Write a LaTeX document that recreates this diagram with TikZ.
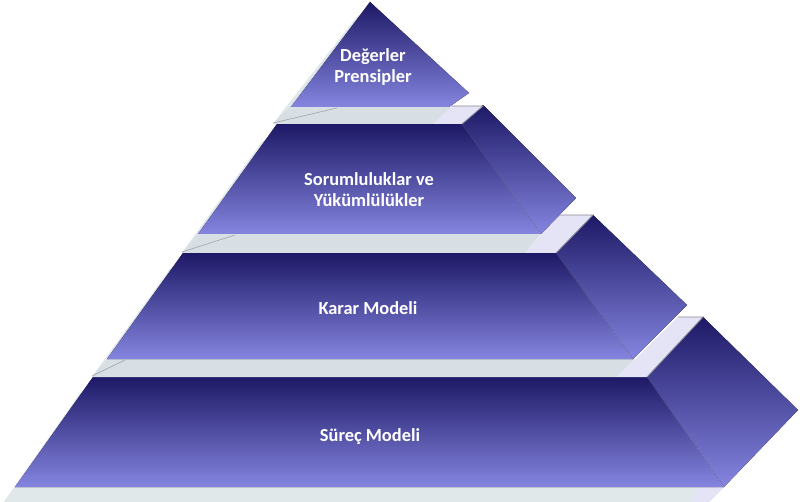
\documentclass[tikz,border=0pt]{standalone}
\usepackage{fontspec}
\setmainfont{Carlito}
\definecolor{navyD}{HTML}{1D1966}
\definecolor{lavL}{HTML}{8585E0}
\definecolor{bandG}{HTML}{D7DFE4}
\definecolor{stripG}{HTML}{E1E8E9}
\definecolor{lavP}{HTML}{E4E4F6}
\definecolor{edgeG}{HTML}{8C8C96}
\tikzset{
  face/.style={top color=navyD, bottom color=lavL, draw=none},
  plate/.style={fill=bandG, draw=none},
  lavpart/.style={fill=lavP, draw=none},
  edgeline/.style={draw=edgeG, line width=0.9pt},
  thinline/.style={draw=edgeG!80, line width=0.6pt},
  ridge/.style={draw=white, draw opacity=0.15, line width=0.6pt},
  label/.style={text=white, font=\fontsize{18.4}{21}\selectfont\bfseries, align=center, inner sep=0pt}
}
\begin{document}
\begin{tikzpicture}[x=1pt,y=-1pt]
\useasboundingbox (0,0) rectangle (800,502);
\fill[white] (0,0) rectangle (800,502);

% ---------- Layer 4 (bottom) ----------
\fill[fill=stripG] (84,390) -- (80,393) -- (3,503) -- (708,503) -- (724,487) -- (15,487) -- cycle;
\fill[lavpart] (698,487) -- (724,487) -- (708,503) -- (690,503) -- cycle;
\fill[face] (647,377) -- (703,317) -- (798,410) -- (724,487) -- cycle;
\fill[face] (93,377) -- (647,377) -- (724,487) -- (15,487) -- cycle;
\draw[ridge] (647,377) -- (724,487);

% ---------- Band C (top face of layer 4) + strip of layer 3 ----------
\fill[plate] (174,266) -- (170,269) -- (92,377) -- (617,377) -- (635,359) -- (107,359) -- cycle;
\fill[fill=stripG] (174,266) -- (170,269) -- (97,371) -- (104,363) -- cycle;
\fill[lavpart] (617,377) -- (647,377) -- (703,317) -- (678,317) -- cycle;
\draw[edgeline] (678,317) -- (703,317) -- (647,377);
\draw[thinline] (92,376) -- (125,360);

% ---------- Layer 3 ----------
\fill[face] (556,253) -- (593,215) -- (687,305) -- (633,359) -- cycle;
\fill[face] (183,253) -- (556,253) -- (633,359) -- (107,359) -- cycle;
\draw[ridge] (556,253) -- (633,359);

% ---------- Band B (top face of layer 3) + strip of layer 2 ----------
\fill[plate] (266,139) -- (262,142) -- (182,253) -- (525,253) -- (541,234) -- (198,234) -- cycle;
\fill[fill=stripG] (266,139) -- (262,142) -- (188,245) -- (195,237) -- cycle;
\fill[lavpart] (525,253) -- (556,253) -- (593,215) -- (558,215) -- cycle;
\draw[edgeline] (558,215) -- (593,215) -- (556,253);
\draw[thinline] (182,252) -- (235,235);

% ---------- Layer 2 ----------
\fill[face] (462,124) -- (483,105) -- (576,198) -- (541,234) -- cycle;
\fill[face] (277,124) -- (462,124) -- (541,234) -- (198,234) -- cycle;
\draw[ridge] (462,124) -- (541,234);

% ---------- Band A (top face of layer 2) + strip of layer 1 ----------
\fill[plate] (360,15) -- (356,18) -- (273,124) -- (433,124) -- (452,107) -- (291,107) -- cycle;
\fill[fill=stripG] (360,15) -- (356,18) -- (279,116) -- (287,110) -- cycle;
\fill[lavpart] (433,124) -- (462,124) -- (483,106) -- (452,106) -- cycle;
\draw[edgeline] (452,106) -- (483,106) -- (462,124);
\draw[thinline] (273,123) -- (337,108);

% ---------- Layer 1 (top) ----------
\fill[face] (370,2) -- (469,93) -- (449,107) -- (291,107) -- cycle;

% ---------- Labels ----------
\node[label] (t1) at (373,67) {Değerler\\Prensipler};
\node[label] (t2) at (369,190) {Sorumluluklar ve\\Yükümlülükler};
\node[label] (t3) at (368,308) {Karar Modeli};
\node[label] (t4) at (370,437) {Süreç Modeli};
\end{tikzpicture}
\end{document}
